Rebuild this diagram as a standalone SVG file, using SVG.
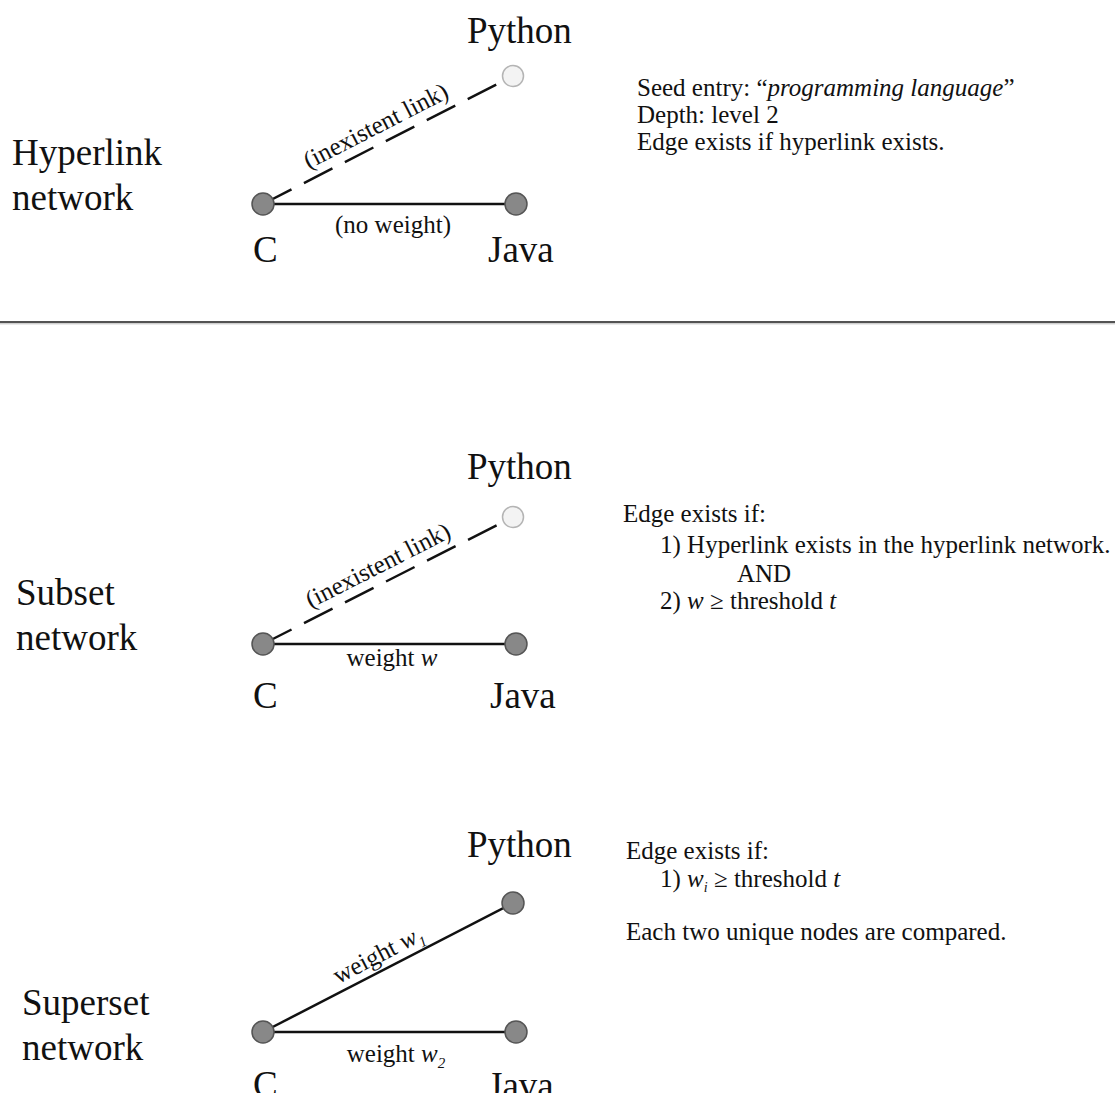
<svg xmlns="http://www.w3.org/2000/svg" width="1115" height="1093" viewBox="0 0 1115 1093">
<defs>
<style>
text { font-family: "Liberation Serif", "Times New Roman", serif; fill: #111; }
.big { font-size: 37px; }
.sm { font-size: 25px; }
.it { font-style: italic; }
.node { fill: #888; stroke: #555; stroke-width: 1.5; }
.ghost { fill: #f3f3f3; stroke: #b4b4b4; stroke-width: 1.5; }
.edge { stroke: #111; stroke-width: 2.5; fill: none; }
.dash { stroke: #111; stroke-width: 2.5; fill: none; stroke-dasharray: 32 14; }
</style>
</defs>
<rect width="1115" height="1093" fill="#fff"/>

<!-- separator -->
<line x1="0" y1="322" x2="1115" y2="322" stroke="#1a1a1a" stroke-width="1.6"/>
<line x1="0" y1="323.8" x2="1115" y2="323.8" stroke="#aaa" stroke-width="0.8"/>

<!-- section labels -->
<g id="label-hyperlink"><text class="big" x="12" y="165">Hyperlink</text><text class="big" x="12" y="210">network</text></g>
<g id="label-subset"><text class="big" x="16" y="605">Subset</text><text class="big" x="16" y="650">network</text></g>
<g id="label-superset"><text class="big" x="22" y="1015">Superset</text><text class="big" x="22" y="1060">network</text></g>

<!-- connectors -->
<g id="connectors">
  <line class="dash" x1="263" y1="204" x2="513" y2="76"/>
  <line class="edge" x1="263" y1="204" x2="516" y2="204"/>
  <line class="dash" x1="263" y1="644" x2="513" y2="517"/>
  <line class="edge" x1="263" y1="644" x2="516" y2="644"/>
  <line class="edge" x1="263" y1="1032" x2="513" y2="903"/>
  <line class="edge" x1="263" y1="1032" x2="516" y2="1032"/>
  <g transform="translate(263,204) rotate(-27.1)"><text class="sm" x="136" y="-10" text-anchor="middle">(inexistent link)</text></g>
  <text class="sm" x="393" y="233" text-anchor="middle">(no weight)</text>
  <g transform="translate(263,644) rotate(-26.9)"><text class="sm" x="138" y="-10" text-anchor="middle">(inexistent link)</text></g>
  <text class="sm" x="392" y="666" text-anchor="middle">weight <tspan class="it">w</tspan></text>
  <g transform="translate(263,1032) rotate(-27.3)"><text class="sm" x="138" y="-8" text-anchor="middle">weight <tspan class="it">w</tspan><tspan class="it" font-size="15" dy="6">1</tspan></text></g>
  <text class="sm" x="396" y="1062" text-anchor="middle">weight <tspan class="it">w</tspan><tspan class="it" font-size="15" dy="6">2</tspan></text>
</g>

<!-- panel 1 nodes -->
<g id="p1-python"><circle class="ghost" cx="513" cy="76" r="10.5"/><text class="big" x="467" y="43">Python</text></g>
<g id="p1-c"><circle class="node" cx="263" cy="204" r="11"/><text class="big" x="253" y="262">C</text></g>
<g id="p1-java"><circle class="node" cx="516" cy="204" r="11"/><text class="big" x="488" y="262">Java</text></g>

<!-- panel 2 nodes -->
<g id="p2-python"><circle class="ghost" cx="513" cy="517" r="10.5"/><text class="big" x="467" y="479">Python</text></g>
<g id="p2-c"><circle class="node" cx="263" cy="644" r="11"/><text class="big" x="253" y="708">C</text></g>
<g id="p2-java"><circle class="node" cx="516" cy="644" r="11"/><text class="big" x="490" y="708">Java</text></g>

<!-- panel 3 nodes -->
<g id="p3-python"><circle class="node" cx="513" cy="903" r="11"/><text class="big" x="467" y="857">Python</text></g>
<g id="p3-c"><circle class="node" cx="263" cy="1032" r="11"/><text class="big" x="253" y="1097">C</text></g>
<g id="p3-java"><circle class="node" cx="516" cy="1032" r="11"/><text class="big" x="488" y="1098">Java</text></g>

<!-- descriptions -->
<g id="desc-hyperlink">
  <text class="sm" x="637" y="96">Seed entry: “<tspan class="it">programming language</tspan>”</text>
  <text class="sm" x="637" y="123">Depth: level 2</text>
  <text class="sm" x="637" y="150">Edge exists if hyperlink exists.</text>
</g>
<g id="desc-subset">
  <text class="sm" x="623" y="522">Edge exists if:</text>
  <text class="sm" x="660" y="553">1) Hyperlink exists in the hyperlink network.</text>
  <text class="sm" x="737" y="582">AND</text>
  <text class="sm" x="660" y="609">2) <tspan class="it">w</tspan> ≥ threshold <tspan class="it">t</tspan></text>
</g>
<g id="desc-superset">
  <text class="sm" x="626" y="859">Edge exists if:</text>
  <text class="sm" x="660" y="887">1) <tspan class="it">w</tspan><tspan class="it" font-size="14" dy="5">i</tspan><tspan dy="-5"> ≥ threshold </tspan><tspan class="it">t</tspan></text>
  <text class="sm" x="626" y="940">Each two unique nodes are compared.</text>
</g>
</svg>
